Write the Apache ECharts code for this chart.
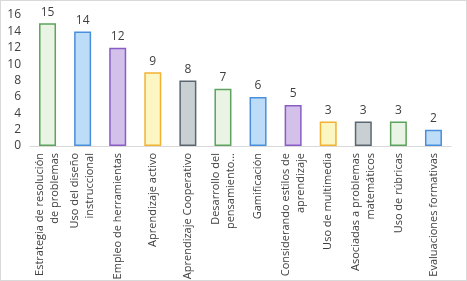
<!DOCTYPE html>
<html><head><meta charset="utf-8">
<script src="https://cdn.jsdelivr.net/npm/echarts@6/dist/echarts.min.js"></script>
<style>html,body{margin:0;padding:0;background:#fff}#c{width:467px;height:281px;box-sizing:border-box;border:1px solid #d9d9d9}</style>
</head><body><div id="c"></div>
<script>
const categories = [
  "Estrategia de resolución\nde problemas",
  "Uso del diseño\ninstruccional",
  "Empleo de herramientas",
  "Aprendizaje activo",
  "Aprendizaje Cooperativo",
  "Desarrollo del\npensamiento...",
  "Gamificación",
  "Considerando estilos de\naprendizaje",
  "Uso de multimedia",
  "Asociadas a problemas\nmatemáticos",
  "Uso de rúbricas",
  "Evaluaciones formativas"
];
const values = [15, 14, 12, 9, 8, 7, 6, 5, 3, 3, 3, 2];
const yTicks = [0, 2, 4, 6, 8, 10, 12, 14, 16];
const borderColors = ["#5da35d", "#4a8fdc", "#8a5cc8", "#f2b233", "#5b6770"];
const fillColors = ["#eaf4e4", "#bcdcf7", "#d3c1ea", "#fbf6c2", "#c9d0d3"];

const chart = echarts.init(document.getElementById('c'));
chart.setOption({
  animation: false,
  grid: {left: 29, right: 15, top: 14, bottom: 134, containLabel: false, outerBoundsMode: 'none'},
  xAxis: {
    type: 'category', data: categories,
    axisLine: {lineStyle: {color: '#d9d9d9', width: 1}},
    axisTick: {show: false},
    axisLabel: {rotate: 90, interval: 0, fontSize: 11, lineHeight: 15, color: '#404040', fontFamily: 'Open Sans', margin: 7}
  },
  yAxis: {
    type: 'value', min: yTicks[0], max: yTicks[yTicks.length-1], interval: 2,
    splitLine: {show: false}, axisLine: {show: false}, axisTick: {show: false},
    axisLabel: {fontSize: 12, color: '#404040', fontFamily: 'Open Sans', margin: 9}
  },
  series: [{
    type: 'bar', barWidth: 17,
    data: values.map((v, i) => ({value: v, itemStyle: {color: fillColors[i % 5], borderColor: borderColors[i % 5], borderWidth: 1.5}})),
    label: {show: true, position: 'top', distance: 5, fontSize: 12, color: '#404040', fontFamily: 'Open Sans'}
  }]
});
</script></body></html>
